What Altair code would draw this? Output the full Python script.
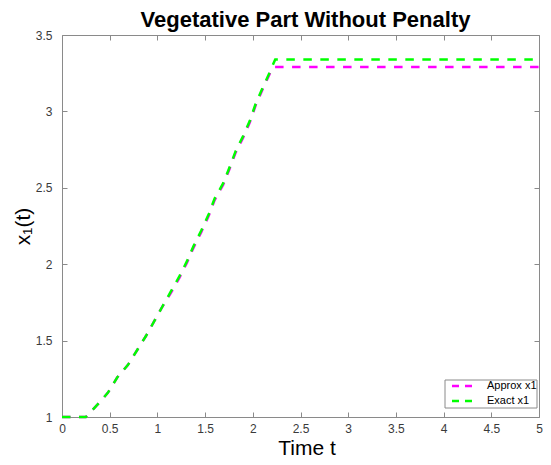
import altair as alt
import pandas as pd

# ---- data ----
t_exact = [0.0, 0.25, 0.32, 0.40, 0.48, 0.58, 0.69, 0.79, 0.88, 0.97, 1.05, 1.14,
           1.23, 1.31, 1.38, 1.46, 1.54, 1.60, 1.69, 1.76, 1.82, 1.90, 1.97, 2.03,
           2.10, 2.18, 2.235, 5.0]
x_exact = [1.0, 1.0, 1.046, 1.10, 1.158, 1.26, 1.34, 1.44, 1.53, 1.63, 1.72, 1.82,
           1.92, 2.02, 2.12, 2.22, 2.33, 2.43, 2.53, 2.64, 2.74, 2.84, 2.94, 3.05,
           3.15, 3.26, 3.34, 3.34]
t_approx = [0.0, 0.25, 0.32, 0.40, 0.48, 0.58, 0.69, 0.79, 0.88, 0.97, 1.05, 1.14,
            1.23, 1.31, 1.38, 1.46, 1.54, 1.60, 1.69, 1.76, 1.82, 1.90, 1.97, 2.03,
            2.10, 2.18, 2.215, 5.0]
x_approx = [1.0, 1.0, 1.046, 1.10, 1.158, 1.26, 1.34, 1.44, 1.53, 1.63, 1.72, 1.81,
            1.91, 2.01, 2.11, 2.21, 2.32, 2.42, 2.52, 2.63, 2.73, 2.83, 2.93, 3.04,
            3.14, 3.25, 3.29, 3.29]
series_names = ["Approx x1", "Exact x1"]
series_colors = ["#ff00ff", "#00ff00"]
x_ticks = [0, 0.5, 1, 1.5, 2, 2.5, 3, 3.5, 4, 4.5, 5]
y_ticks = [1, 1.5, 2, 2.5, 3, 3.5]

df = pd.concat([
    pd.DataFrame({"t": t_approx, "x": x_approx, "series": series_names[0], "k": range(len(t_approx))}),
    pd.DataFrame({"t": t_exact, "x": x_exact, "series": series_names[1], "k": range(len(t_exact))}),
], ignore_index=True)
legend_df = pd.DataFrame({"series": series_names})

GRAY = "#8a8a8a"
LABEL = "#3a3a3a"
FONT = "Liberation Sans"
PAD_L, PAD_T = 54, 27
W, H = 477, 382

xscale = alt.Scale(domain=[0, 5], nice=False, zero=False)
yscale = alt.Scale(domain=[1, 3.5], nice=False, zero=False)
cscale = alt.Scale(domain=series_names, range=series_colors)

x_axis = alt.Axis(values=x_ticks, format="~g", title="Time t", offset=-5, domain=False,
                  tickSize=5, tickColor=GRAY, labelPadding=6, labelFontSize=12,
                  labelColor=LABEL, titleFontSize=21, titleFontWeight="normal",
                  titlePadding=3, titleColor="#000000", grid=False, labelFlush=False,
                  titleX=W / 2 + 6, titleAlign="center", titleAnchor="start")
y_axis = alt.Axis(values=y_ticks, format="~g", title="x₁(t)", offset=-5, domain=False,
                  tickSize=5, tickColor=GRAY, labelPadding=10, labelFontSize=12,
                  labelColor=LABEL, titleFontSize=21, titleFontWeight="normal",
                  titlePadding=2, titleColor="#000000", grid=False, labelFlush=False)

base = alt.Chart(df)

def series_line(name, show_axes):
    return base.transform_filter(alt.datum.series == name).mark_line(
        strokeWidth=2.5, strokeDash=[8.5, 8.5], strokeCap="butt"
    ).encode(
        x=alt.X("t:Q", scale=xscale, axis=x_axis if show_axes else None),
        y=alt.Y("x:Q", scale=yscale, axis=y_axis if show_axes else None),
        color=alt.Color("series:N", scale=cscale, legend=None),
        order="k:Q",
    )

approx = series_line(series_names[0], True)
exact = series_line(series_names[1], False)

frame = base.mark_point(opacity=0).encode(
    x=alt.X("t:Q", scale=xscale, axis=alt.Axis(orient="top", values=x_ticks, labels=False,
                                                title=None, offset=-5, domain=False,
                                                tickSize=5, tickColor=GRAY, grid=False)),
    y=alt.Y("x:Q", scale=yscale, axis=alt.Axis(orient="right", values=y_ticks, labels=False,
                                                title=None, offset=-5, domain=False,
                                                tickSize=5, tickColor=GRAY, grid=False)),
)

# ---- legend box (drawn by hand, inside the plot, bottom right) ----
LX1 = W - 2
LX0 = LX1 - 92
LY0, LY1 = H - 37, H - 9
row_y = [LY0 + 6, LY0 + 21]
leg_layers = [
    alt.Chart(legend_df).mark_rect(fill="#ffffff", stroke=GRAY, strokeWidth=1).encode(
        x=alt.value(LX0), x2=alt.value(LX1), y=alt.value(LY0), y2=alt.value(LY1)
    ).transform_filter(alt.datum.series == series_names[0])
]
for i, name in enumerate(series_names):
    sub = alt.Chart(legend_df).transform_filter(alt.datum.series == name)
    leg_layers.append(sub.mark_rule(strokeWidth=2.5, strokeDash=[7, 6], strokeCap="butt").encode(
        x=alt.value(LX0 + 7), x2=alt.value(LX0 + 28), y=alt.value(row_y[i]),
        color=alt.Color("series:N", scale=cscale, legend=None),
    ))
    leg_layers.append(sub.mark_text(align="left", baseline="middle", fontSize=11,
                                    font=FONT, color="#000000").encode(
        x=alt.value(LX0 + 42), y=alt.value(row_y[i]), text="series:N",
    ))

chart = alt.layer(frame, approx, exact, *leg_layers).resolve_axis(
    x="independent", y="independent"
).properties(
    width=W,
    height=H,
    padding={"left": PAD_L, "top": PAD_T, "right": 4, "bottom": 40},
    autosize=alt.AutoSizeParams(type="none"),
    title=alt.TitleParams("Vegetative Part Without Penalty", fontSize=22,
                          fontWeight="bold", font=FONT, color="#000000", offset=-3,
                          anchor="middle", dx=5),
).configure(
    font=FONT,
).configure_view(
    stroke=GRAY, strokeWidth=1,
).configure_axis(
    labelFont=FONT, titleFont=FONT,
)

chart.save("out.html", embed_options={"renderer": "svg", "actions": False})
